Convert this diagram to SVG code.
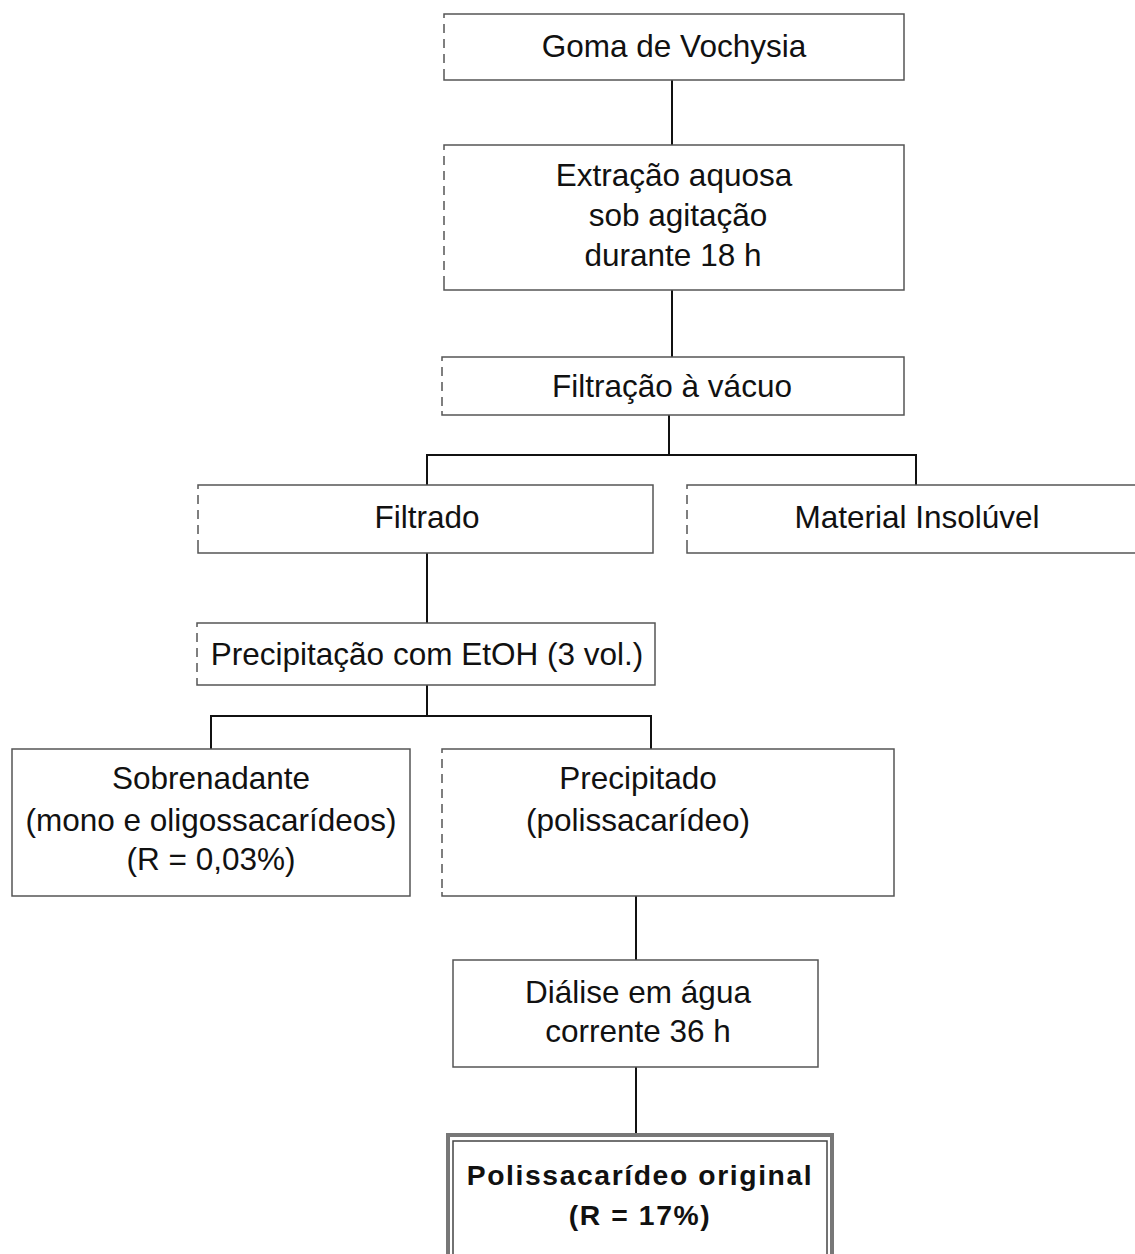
<svg xmlns="http://www.w3.org/2000/svg" width="1135" height="1254" viewBox="0 0 1135 1254">
<style>
.box{fill:#fff;stroke:#555;stroke-width:1.5}
.lft{stroke:#fff;stroke-width:2.5;stroke-dasharray:6 9}
.t{font-family:"Liberation Sans",Arial,sans-serif;font-size:31.5px;fill:#111;text-anchor:middle}
.b{font-family:"Liberation Sans",Arial,sans-serif;font-size:28.3px;font-weight:bold;letter-spacing:1.6px;fill:#111;text-anchor:middle}
.c{stroke:#111;stroke-width:2;fill:none}
</style>
<rect width="1135" height="1254" fill="#fff"/>
<g id="connectors">
<path class="c" d="M672 80V145"/>
<path class="c" d="M672 290V357"/>
<path class="c" d="M669 415V455"/>
<path class="c" d="M427 485V455H916V485"/>
<path class="c" d="M427 553V623"/>
<path class="c" d="M427 685V716"/>
<path class="c" d="M211 749V716H651V749"/>
<path class="c" d="M636 896V960"/>
<path class="c" d="M636 1067V1133"/>
</g>
<g id="n1">
<rect class="box" x="444" y="14" width="460" height="66"/>
<path class="lft" d="M444 18V76"/>
<text class="t" x="674" y="57">Goma de Vochysia</text>
</g>
<g id="n2">
<rect class="box" x="444" y="145" width="460" height="145"/>
<path class="lft" d="M444 150V285"/>
<text class="t" x="674" y="186">Extração aquosa</text>
<text class="t" x="678" y="226">sob agitação</text>
<text class="t" x="673" y="266">durante 18 h</text>
</g>
<g id="n3">
<rect class="box" x="442" y="357" width="462" height="58"/>
<path class="lft" d="M442 361V411"/>
<text class="t" x="672" y="397">Filtração à vácuo</text>
</g>
<g id="n4">
<rect class="box" x="198" y="485" width="455" height="68"/>
<path class="lft" d="M198 489V549"/>
<text class="t" x="427" y="528">Filtrado</text>
</g>
<g id="n5">
<rect class="box" x="687" y="485" width="460" height="68"/>
<path class="lft" d="M687 489V549"/>
<text class="t" x="917" y="528">Material Insolúvel</text>
</g>
<g id="n6">
<rect class="box" x="197" y="623" width="458" height="62"/>
<path class="lft" d="M197 627V681"/>
<text class="t" x="427" y="665">Precipitação com EtOH (3 vol.)</text>
</g>
<g id="n7">
<rect class="box" x="12" y="749" width="398" height="147"/>
<text class="t" x="211" y="789">Sobrenadante</text>
<text class="t" x="211" y="831">(mono e oligossacarídeos)</text>
<text class="t" x="211" y="870">(R = 0,03%)</text>
</g>
<g id="n8">
<rect class="box" x="442" y="749" width="452" height="147"/>
<path class="lft" d="M442 753V892"/>
<text class="t" x="638" y="789">Precipitado</text>
<text class="t" x="638" y="831">(polissacarídeo)</text>
</g>
<g id="n9">
<rect class="box" x="453" y="960" width="365" height="107"/>
<text class="t" x="638" y="1003">Diálise em água</text>
<text class="t" x="638" y="1042">corrente 36 h</text>
</g>
<g id="n10">
<rect x="448" y="1135" width="384" height="125" fill="#fff" stroke="#777" stroke-width="4"/>
<rect x="453" y="1141" width="374" height="125" fill="none" stroke="#444" stroke-width="1.5"/>
<text class="b" x="640" y="1185">Polissacarídeo original</text>
<text class="b" x="640" y="1225">(R = 17%)</text>
</g>
</svg>
